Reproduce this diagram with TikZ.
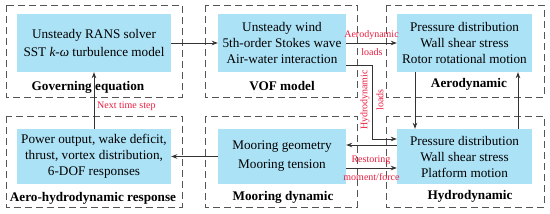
\documentclass[tikz,border=0pt]{standalone}
\usepackage{fontspec}
\setmainfont{Liberation Serif}
\usetikzlibrary{arrows.meta}
\definecolor{boxblue}{RGB}{172,226,246}
\definecolor{lblred}{RGB}{232,28,62}
\definecolor{dashgray}{RGB}{85,85,85}
\begin{document}
\begin{tikzpicture}[x=1pt,y=-1pt,
  grp/.style={draw=dashgray, dash pattern=on 7pt off 4pt, line width=0.9pt},
  content/.style={fill=boxblue, align=center, font=\fontsize{13.2}{16}\selectfont, inner sep=0pt, anchor=center},
  ttl/.style={font=\bfseries\fontsize{13.2}{15}\selectfont, inner sep=0pt},
  lbl/.style={text=lblred, font=\fontsize{10}{11}\selectfont, align=center, inner sep=0pt},
  conn/.style={draw=black!80, line width=0.8pt, -{Stealth[length=6pt,width=4.5pt]}}]
\useasboundingbox (0,0) rectangle (550,214);

% dashed group frames
\draw[grp] (6,5) rectangle (182,97);
\draw[grp] (205,5) rectangle (357,97);
\draw[grp] (386,5) rectangle (544,97);
\draw[grp] (6,116) rectangle (182,207);
\draw[grp] (205,116) rectangle (357,207);
\draw[grp] (386,116) rectangle (544,207);

% content boxes
\node[content, minimum width=154pt, minimum height=58pt] (gov) at (94,43)
  {Unsteady RANS solver\\[2pt] SST \textit{k-ω} turbulence model};
\node[content, minimum width=128pt, minimum height=58pt] (vof) at (282,43)
  {Unsteady wind\\ 5th-order Stokes wave\\ Air-water interaction};
\node[content, minimum width=135pt, minimum height=58pt] (aero) at (464.5,43)
  {Pressure distribution\\ Wall shear stress\\ Rotor rotational motion};
\node[content, minimum width=154pt, minimum height=55pt] (resp) at (94,156.5)
  {Power output, wake deficit,\\ thrust, vortex distribution,\\ 6-DOF responses};
\node[content, minimum width=128pt, minimum height=55pt] (moor) at (282,156.5)
  {Mooring geometry\\[3pt] Mooring tension};
\node[content, minimum width=135pt, minimum height=55pt] (hydro) at (464.5,156.5)
  {Pressure distribution\\ Wall shear stress\\ Platform motion};

% titles
\node[ttl] (tgov) at (88,87) {Governing equation};
\node[ttl] (tvof) at (282,86) {VOF model};
\node[ttl] (taero) at (469,84) {Aerodynamic};
\node[ttl] (tresp) at (93,198) {Aero-hydrodynamic response};
\node[ttl] (tmoor) at (283,197) {Mooring dynamic};
\node[ttl] (thydro) at (470,196) {Hydrodynamic};

% connectors
\draw[conn] (gov.east) -- (vof.west);
\draw[conn] (vof.east) -- (aero.west);
\node[lbl] (laero1) at (371.5,35) {Aerodynamic};
\node[lbl] (laero2) at (372,52) {loads};

\draw[conn] ([yshift=-22pt]vof.east) -- ++(26,0) |- ([yshift=17.5pt]hydro.west);
\node[lbl, rotate=90] (lhydro) at (372,100) {Hydrodynamic\\[5pt] loads};

\draw[conn] ([xshift=-49.5pt]aero.south) -- ([xshift=-49.5pt]hydro.north);
\draw[conn] ([xshift=53.5pt]hydro.north) -- ([xshift=53.5pt]aero.south);

\draw[conn] ([yshift=11.5pt]hydro.west) -- ([yshift=11.5pt]moor.east);
\draw[conn] ([yshift=-11.5pt]moor.east) -- ([yshift=-11.5pt]hydro.west);
\node[lbl] (lrest1) at (371,160) {Restoring};
\node[lbl] (lrest2) at (371.5,177) {moment/force};

\draw[conn] (moor.west) -- (resp.east);
\draw[conn] (resp.north) -- (gov.south);
\node[lbl, anchor=west] (lnext) at (97,106) {Next time step};
\end{tikzpicture}
\end{document}
